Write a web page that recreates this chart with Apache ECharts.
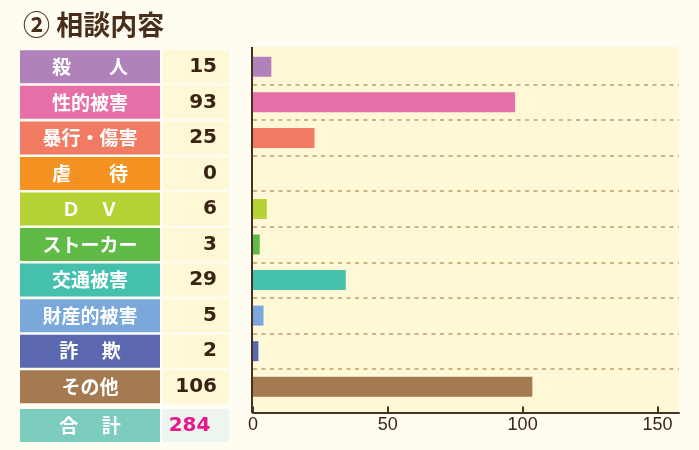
<!DOCTYPE html>
<html>
<head>
<meta charset="utf-8">
<script src="https://cdn.jsdelivr.net/npm/echarts@6/dist/echarts.min.js"></script>
<style>
  html, body { margin: 0; padding: 0; background: #FFFDF2; }
  #main { width: 699px; height: 450px; }
</style>
</head>
<body>
<div id="main"></div>
<script>
// 相談内容 data
var categories = ['殺　　人', '性的被害', '暴行・傷害', '虐　　待', 'Ｄ　Ｖ', 'ストーカー', '交通被害', '財産的被害', '詐　 欺', 'その他'];
// numbers printed in the table
var counts = [15, 93, 25, 0, 6, 3, 29, 5, 2, 106];
// bar lengths as drawn in the picture
var barValues = [6.8, 97.2, 22.8, 0, 5.1, 2.5, 34.4, 3.9, 2.0, 103.6];
var colors = ['#B082B9', '#E66FA8', '#F27B63', '#F59322', '#B5D334', '#5FBB46', '#45C0AE', '#7BA8DB', '#5B68B0', '#A57A50'];
var totalLabel = '合　 計';
var xTicks = [0, 50, 100, 150];

var total = counts.reduce(function (a, b) { return a + b; }, 0);

var FONT_JP = '"Noto Sans CJK JP", sans-serif';
var FONT_NUM = '"DejaVu Sans", sans-serif';
var FONT_AXIS = '"Liberation Sans", Arial, sans-serif';
var BROWN = '#3B2314';

// colorKey: 'color' for axis label rich, 'fill' for raw graphic text
function cellRich(bg, valBg, valColor, colorKey) {
    var c = { width: 140, height: 33, lineHeight: 33, backgroundColor: bg, fontSize: 19, fontWeight: 'bold', fontFamily: FONT_JP, align: 'center' };
    var v = { width: 55, height: 33, lineHeight: 33, backgroundColor: valBg, fontSize: 20, fontWeight: 'bold', fontFamily: FONT_NUM, align: 'right' };
    c[colorKey] = '#FFFFFF';
    v[colorKey] = valColor;
    return {
        c: c,
        g: { width: 2, height: 33, lineHeight: 33, backgroundColor: '#FFFFFF' },
        v: v,
        p: { width: 12, height: 33, lineHeight: 33, backgroundColor: valBg }
    };
}

var rich = {};
colors.forEach(function (c, i) {
    var r = cellRich(c, '#FFF8D6', BROWN, 'color');
    rich['c' + i] = r.c;
    rich['g' + i] = r.g;
    rich['v' + i] = r.v;
    rich['p' + i] = r.p;
});

var myChart = echarts.init(document.getElementById('main'));

var option = {
    backgroundColor: '#FFFDF2',
    animation: false,
    title: {
        text: '② 相談内容',
        left: 18,
        top: 6,
        textStyle: { fontSize: 27, fontWeight: 'bold', color: '#4A2E1A', fontFamily: FONT_JP }
    },
    grid: { left: 253, right: 20, top: 49, bottom: 45.5, containLabel: false },
    xAxis: {
        type: 'value',
        min: 0,
        max: 158,
        interval: 50,
        offset: 8,
        axisLine: { show: true, lineStyle: { color: '#4A3020', width: 2 } },
        axisTick: { show: true, inside: true, length: 6, customValues: xTicks, lineStyle: { color: '#4A3020', width: 2 } },
        axisLabel: { customValues: xTicks, color: BROWN, fontSize: 18, fontFamily: FONT_AXIS, margin: 4 },
        splitLine: { show: false }
    },
    yAxis: {
        type: 'category',
        data: categories,
        inverse: true,
        axisLine: { show: false },
        axisTick: { show: false },
        splitLine: {
            show: true,
            showMinLine: false,
            showMaxLine: false,
            lineStyle: { color: '#BE9C6E', width: 1.5, type: [4, 4.5] }
        },
        axisLabel: {
            margin: 24,
            formatter: function (value, idx) {
                return '{c' + idx + '|' + value + '}{g' + idx + '| }{v' + idx + '|' + counts[idx] + '}{p' + idx + '| }';
            },
            rich: rich
        }
    },
    graphic: [
        {
            type: 'rect',
            z: -10,
            shape: { x: 252, y: 47, width: 427, height: 366 },
            style: { fill: '#FFF8D6' }
        },
        {
            type: 'line',
            z: 10,
            shape: { x1: 252, y1: 47, x2: 252, y2: 413 },
            style: { stroke: '#4A3020', lineWidth: 2 }
        },
        {
            type: 'text',
            x: 20,
            y: 409,
            style: {
                text: '{c|' + totalLabel + '}{g| }{v|' + total + '}{p| }',
                rich: cellRich('#7DCDBF', '#ECF6EF', '#E8178A', 'fill'),
                verticalAlign: 'top'
            }
        }
    ],
    series: [
        {
            type: 'bar',
            data: barValues.map(function (v, i) {
                return { value: v, itemStyle: { color: colors[i] } };
            }),
            barWidth: 20
        }
    ]
};

myChart.setOption(option);
</script>
</body>
</html>
